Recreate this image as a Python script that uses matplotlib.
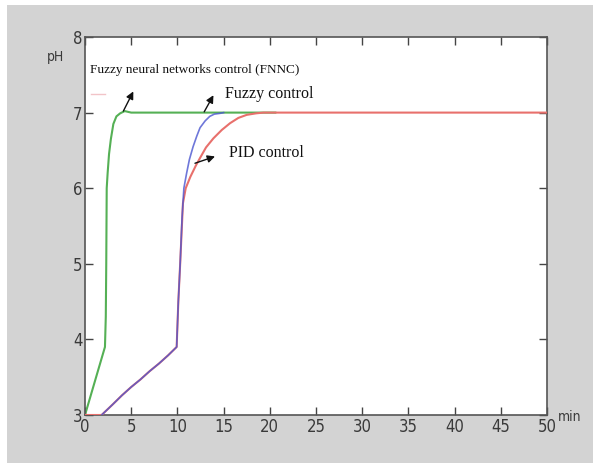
import matplotlib
matplotlib.use("Agg")
import matplotlib.pyplot as plt
from matplotlib.patches import Rectangle

# ---- data ----
fnnc_t = [0.0, 2.16, 2.25, 2.3, 2.35, 2.45, 2.6, 2.8, 3.07, 3.4, 3.8, 4.3, 5.0, 20.6]
fnnc_ph = [3.0, 3.9, 4.3, 5.0, 6.0, 6.2, 6.45, 6.65, 6.85, 6.95, 6.99, 7.02, 7.0, 7.0]

fuzzy_t = [1.8, 3.0, 4.0, 5.0, 6.0, 7.0, 8.0, 9.0, 9.92, 10.1, 10.3, 10.5, 10.7, 11.0,
           11.3, 11.7, 12.1, 12.45, 13.0, 13.5, 14.0, 14.6, 15.0]
fuzzy_ph = [3.0, 3.14, 3.26, 3.37, 3.47, 3.58, 3.68, 3.79, 3.9, 4.5, 5.0, 5.6, 6.0, 6.2,
            6.38, 6.55, 6.69, 6.8, 6.89, 6.95, 6.98, 6.99, 7.0]

pid_t = [0.0, 1.8, 3.0, 4.0, 5.0, 6.0, 7.0, 8.0, 9.0, 9.92, 10.1, 10.3, 10.6, 10.9, 11.4,
         12.0, 12.45, 13.1, 13.9, 14.8, 15.7, 16.6, 17.5, 18.5, 19.3, 50.0]
pid_ph = [3.0, 3.0, 3.14, 3.26, 3.37, 3.47, 3.58, 3.68, 3.79, 3.9, 4.5, 5.0, 5.8, 6.0, 6.15,
          6.3, 6.4, 6.54, 6.66, 6.77, 6.86, 6.93, 6.97, 6.99, 7.0, 7.0]

stray_t = [0.6, 2.2]
stray_ph = [7.25, 7.25]

x_ticks = [0, 5, 10, 15, 20, 25, 30, 35, 40, 45, 50]
y_ticks = [3, 4, 5, 6, 7, 8]

label_fnnc = "Fuzzy neural networks control (FNNC)"
label_fuzzy = "Fuzzy control"
label_pid = "PID control"

# ---- figure ----
W, H = 593, 463
fig = plt.figure(figsize=(W / 100, H / 100), dpi=100, facecolor="white")
fig.patches.append(Rectangle((7 / W, 0), 1 - 7 / W, 1 - 5 / H, transform=fig.transFigure,
                             facecolor="#d3d3d3", edgecolor="none", zorder=-10))

ax = fig.add_axes([85 / W, 1 - 415 / H, (547 - 85) / W, (415 - 37) / H])
ax.set_zorder(1)
ax.set_facecolor("white")

ax.plot(pid_t, pid_ph, color="#e8706c", lw=1.5, zorder=3, solid_joinstyle="round")
ax.plot(fnnc_t, fnnc_ph, color="#55b055", lw=1.5, zorder=2, solid_joinstyle="round")
ax.plot(fuzzy_t, fuzzy_ph, color="#4a55d0", lw=1.2, alpha=0.8, zorder=4, solid_joinstyle="round")
ax.plot(stray_t, stray_ph, color="#f2c4c8", lw=1.0, zorder=2)

ax.set_xlim(0, 50)
ax.set_ylim(3, 8)
ax.set_xticks(x_ticks)
ax.set_yticks(y_ticks)

tick_font = dict(family=["DejaVu Sans"], stretch="condensed")
ax.set_xticklabels([str(v) for v in x_ticks], fontsize=12, color="#3a3a3a", **tick_font)
ax.set_yticklabels([str(v) for v in y_ticks], fontsize=12, color="#3a3a3a", **tick_font)
ax.tick_params(direction="in", length=6, width=1, color="#444444", top=True, right=True, pad=2)
for s in ax.spines.values():
    s.set_color("#555555")
    s.set_linewidth(1.2)

fig.text(55 / W, 1 - 57 / H, "pH", fontsize=10, color="#3a3a3a", ha="center", va="center", **tick_font)
fig.text(570 / W, 1 - 417 / H, "min", fontsize=10, color="#3a3a3a", ha="center", va="center", **tick_font)

serif = dict(family=["Liberation Serif", "DejaVu Serif"], color="#111111")
arrow = dict(arrowstyle="-|>", color="#111111", lw=1.0, mutation_scale=11, shrinkA=0, shrinkB=0)

ax.annotate("", xy=(5.23, 7.28), xytext=(4.15, 7.02), arrowprops=arrow, zorder=5)
ax.text(0.54, 7.56, label_fnnc, fontsize=9.5, va="center", ha="left", **serif)

ax.annotate("", xy=(13.9, 7.23), xytext=(12.9, 7.01), arrowprops=arrow, zorder=5)
ax.text(15.1, 7.24, label_fuzzy, fontsize=11.5, va="center", ha="left", **serif)

ax.annotate("", xy=(14.07, 6.42), xytext=(11.9, 6.33), arrowprops=arrow, zorder=5)
ax.text(15.6, 6.46, label_pid, fontsize=11.5, va="center", ha="left", **serif)

fig.savefig("out.png", dpi=100, facecolor="white")
